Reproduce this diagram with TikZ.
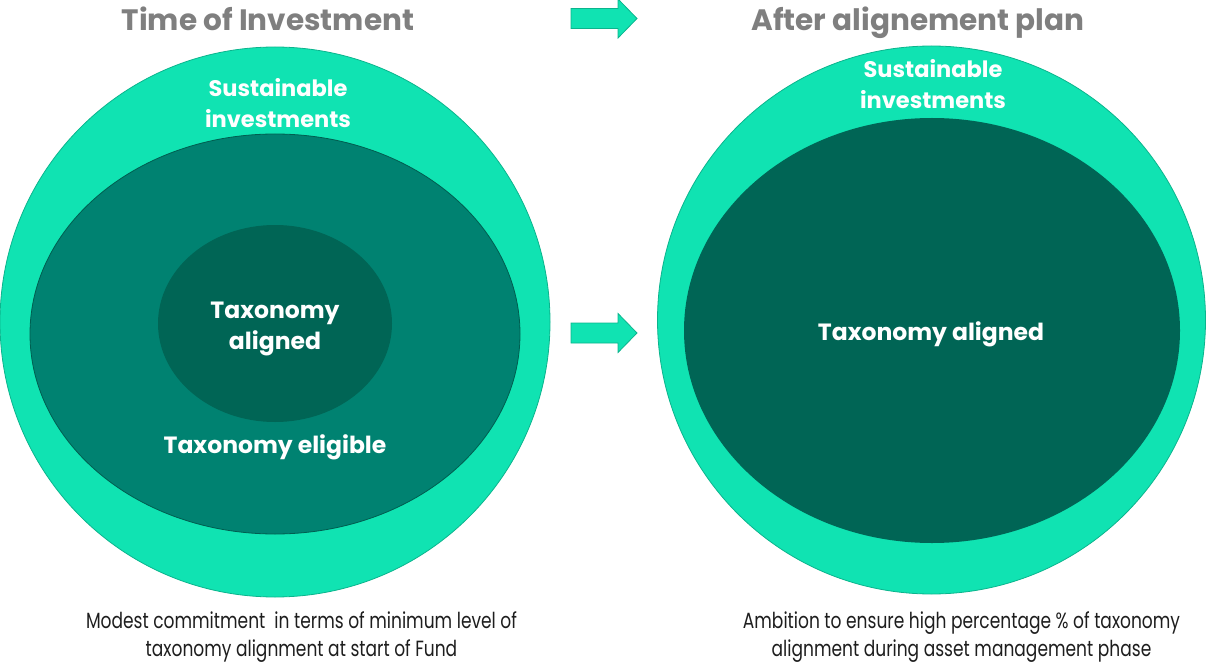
\documentclass[tikz,border=0pt]{standalone}
\usepackage{fontspec}
\setmainfont{Poppins}
\newfontfamily\bodyfont[FakeStretch=0.775]{Poppins}
\usetikzlibrary{shapes.geometric}

\definecolor{mint}{HTML}{10E3B2}
\definecolor{mintedge}{HTML}{0BB48D}
\definecolor{midteal}{HTML}{008271}
\definecolor{midedge}{HTML}{005E50}
\definecolor{deepteal}{HTML}{006555}
\definecolor{titlegrey}{HTML}{7F7F7F}
\definecolor{bodygrey}{HTML}{1E1E1E}

\begin{document}
\begin{tikzpicture}[x=1pt,y=-1pt,
  outerdisc/.style={circle, fill=mint, draw=mintedge, line width=0.8pt, inner sep=0pt},
  eligring/.style={ellipse, fill=midteal, draw=midedge, line width=0.8pt, inner sep=0pt},
  coredisc/.style={ellipse, fill=deepteal, draw=none, inner sep=0pt},
  disclabel/.style={text=white, align=center, inner sep=0pt,
    font=\fontsize{23.5}{31}\selectfont\bfseries},
  sustlabel/.style={disclabel, font=\fontsize{22.5}{31}\selectfont\bfseries},
  headline/.style={text=titlegrey, anchor=base, inner sep=0pt,
    font=\fontsize{29.5}{36}\selectfont\bfseries},
  caption/.style={text=bodygrey, align=center, inner sep=0pt,
    font=\bodyfont\fontsize{22}{28}\selectfont},
  blockarrow/.style={fill=mint, draw=mintedge, line width=0.8pt, line join=miter}]

\useasboundingbox (0,0) rectangle (1207,663);

% left: situation at the time of investment
\node[outerdisc, minimum size=550pt] (leftouter) at (275,322) {};
\node[eligring, minimum width=490pt, minimum height=400pt] (lefteligible) at (275,334) {};
\node[coredisc, minimum width=234pt, minimum height=197pt] (leftaligned) at (275,323.5) {};

% right: situation after the alignment plan
\node[outerdisc, minimum size=548pt] (rightouter) at (931.5,320) {};
\node[coredisc, minimum width=496pt, minimum height=425pt] (rightaligned) at (932,330.5) {};

% titles
\node[headline] (lefttitle) at (268,31) {Time of Investment};
\node[headline] (righttitle) at (918,31) {After alignement plan};

% labels inside the discs
\node[sustlabel] (leftsust) at (278,103.5) {Sustainable\\investments};
\node[disclabel] (leftcore) at (275,329) {Taxonomy\\aligned};
\node[disclabel] (leftelig) at (275,447) {Taxonomy eligible};
\node[sustlabel] (rightsust) at (933,84.5) {Sustainable\\investments};
\node[disclabel] (rightcore) at (931,334) {Taxonomy aligned};

% captions
\node[caption] (leftcaption) at (301.5,637) {Modest commitment\ \ in terms of minimum level of\\taxonomy alignment at start of Fund};
\node[caption] (rightcaption) at (961.5,637) {Ambition to ensure high percentage \% of taxonomy\\alignment during asset management phase};

% block arrows
\draw[blockarrow] (571,8.5) -- (618,8.5) -- (618,-1) -- (637,18.5) -- (618,38) -- (618,28.5) -- (571,28.5) -- cycle;
\draw[blockarrow] (571,323) -- (618,323) -- (618,313.5) -- (637,333) -- (618,352.5) -- (618,343) -- (571,343) -- cycle;
\end{tikzpicture}
\end{document}
